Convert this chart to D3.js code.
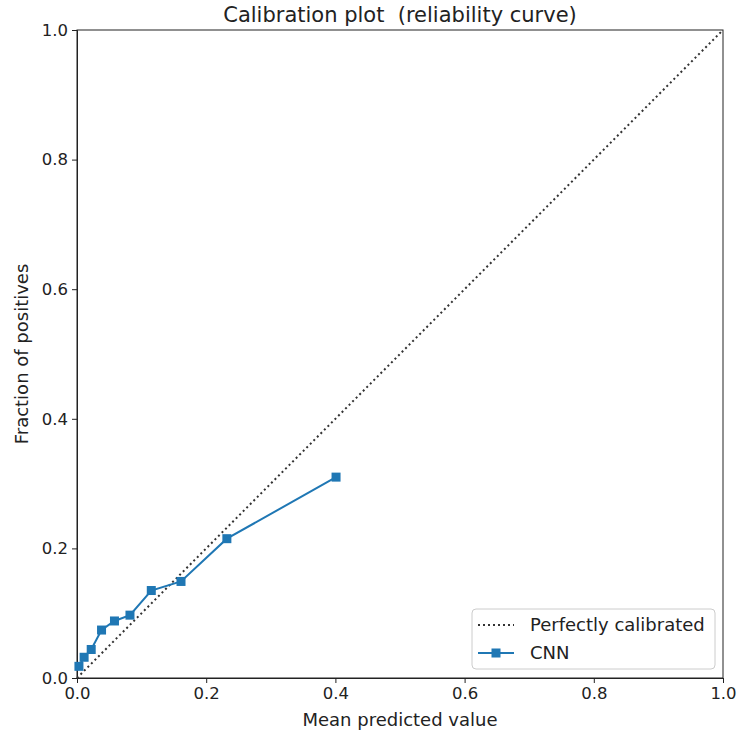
<!DOCTYPE html>
<head>
  <meta charset="utf-8">
  <script src="https://d3js.org/d3.v7.min.js"></script>
  <style>
  body { margin: 0; background: #fff; }
  text { font-family: "DejaVu Sans", sans-serif; fill: #222; white-space: pre; }
  .axis path, .axis line { stroke: #222; }
  .axis text { font-size: 16.5px; fill: #222; }
</style>
</head>
<body>
<svg width="738" height="734"></svg>

<script type="text/javascript">
// values
var meanPredicted = [0.003, 0.011, 0.022, 0.038, 0.058, 0.082, 0.115, 0.161, 0.232, 0.401];
var fractionPositives = [0.018, 0.032, 0.044, 0.074, 0.088, 0.097, 0.135, 0.149, 0.215, 0.310];
var perfectLine = [[0, 0], [1, 1]];
var tickValues = [0, 0.2, 0.4, 0.6, 0.8, 1.0];
var legendLabels = ["Perfectly calibrated", "CNN"];

var svg = d3.select("svg");
var plotLeft = 77, plotTop = 30, plotRight = 723, plotBottom = 678;

var x = d3.scaleLinear().domain([0, 1]).range([plotLeft, plotRight]);
var y = d3.scaleLinear().domain([0, 1]).range([plotBottom, plotTop]);

// axes
svg.append("g").attr("class", "axis")
    .attr("transform", "translate(0," + plotBottom + ")")
    .call(d3.axisBottom(x).tickValues(tickValues).tickFormat(d3.format(".1f")).tickSizeOuter(0).tickSize(5).tickPadding(4));
svg.append("g").attr("class", "axis")
    .attr("transform", "translate(" + plotLeft + ",0)")
    .call(d3.axisLeft(y).tickValues(tickValues).tickFormat(d3.format(".1f")).tickSizeOuter(0).tickSize(5).tickPadding(4));

// frame
svg.append("rect")
    .attr("x", plotLeft).attr("y", plotTop)
    .attr("width", plotRight - plotLeft).attr("height", plotBottom - plotTop)
    .attr("fill", "none").attr("stroke", "#222").attr("stroke-width", 1);

// perfectly calibrated
svg.append("path")
    .datum(perfectLine)
    .attr("d", d3.line().x(function(d) { return x(d[0]); }).y(function(d) { return y(d[1]); }))
    .attr("fill", "none")
    .attr("stroke", "#333")
    .attr("stroke-width", 2)
    .attr("stroke-dasharray", "2,3");

// CNN curve
var pts = meanPredicted.map(function(v, i) { return [v, fractionPositives[i]]; });
svg.append("path")
    .datum(pts)
    .attr("d", d3.line().x(function(d) { return x(d[0]); }).y(function(d) { return y(d[1]); }))
    .attr("fill", "none")
    .attr("stroke", "#1f77b4")
    .attr("stroke-width", 2);

svg.selectAll("rect.marker")
    .data(pts)
  .enter().append("rect")
    .attr("class", "marker")
    .attr("x", function(d) { return x(d[0]) - 4.5; })
    .attr("y", function(d) { return y(d[1]) - 4.5; })
    .attr("width", 9).attr("height", 9)
    .attr("fill", "#1f77b4");

// title and labels
svg.append("text")
    .attr("x", (plotLeft + plotRight) / 2).attr("y", 22)
    .attr("text-anchor", "middle")
    .style("font-size", "21px")
    .text("Calibration plot  (reliability curve)");

svg.append("text")
    .attr("x", (plotLeft + plotRight) / 2).attr("y", 726)
    .attr("text-anchor", "middle")
    .style("font-size", "18px")
    .text("Mean predicted value");

svg.append("text")
    .attr("transform", "translate(28," + (plotTop + plotBottom) / 2 + ") rotate(-90)")
    .attr("text-anchor", "middle")
    .style("font-size", "18px")
    .text("Fraction of positives");

// legend
var lg = svg.append("g").attr("transform", "translate(472,609)");
lg.append("rect")
    .attr("width", 243).attr("height", 60).attr("rx", 4)
    .attr("fill", "#fff").attr("fill-opacity", 0.8)
    .attr("stroke", "#ccc");
lg.append("line")
    .attr("x1", 6).attr("x2", 42).attr("y1", 16).attr("y2", 16)
    .attr("stroke", "#333").attr("stroke-width", 2).attr("stroke-dasharray", "2,3");
lg.append("line")
    .attr("x1", 6).attr("x2", 42).attr("y1", 44).attr("y2", 44)
    .attr("stroke", "#1f77b4").attr("stroke-width", 2);
lg.append("rect")
    .attr("x", 19.5).attr("y", 39.5).attr("width", 9).attr("height", 9)
    .attr("fill", "#1f77b4");
lg.selectAll("text.lab")
    .data(legendLabels)
  .enter().append("text")
    .attr("class", "lab")
    .attr("x", 58)
    .attr("y", function(d, i) { return 22 + i * 28; })
    .style("font-size", "18px")
    .text(function(d) { return d; });
</script>

</body>
</html>
